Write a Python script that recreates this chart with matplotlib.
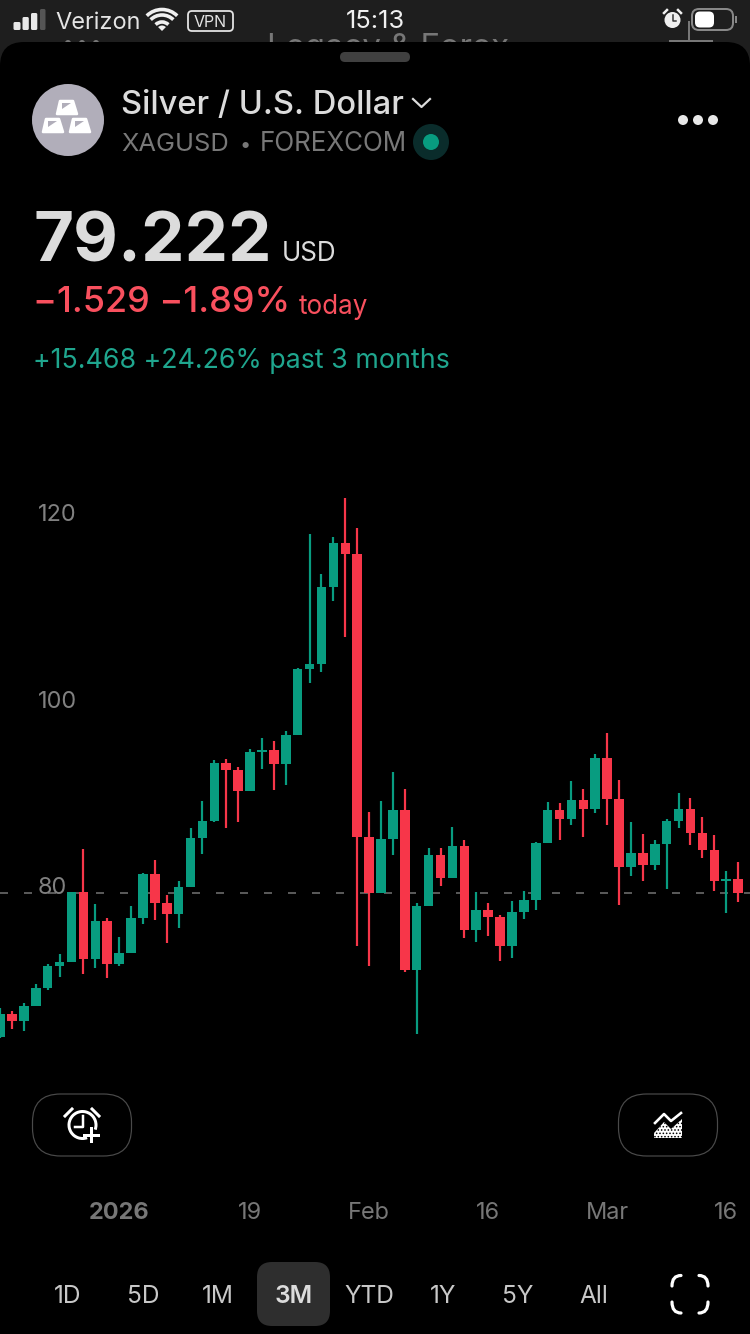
import matplotlib
matplotlib.use('Agg')
from matplotlib import pyplot as plt
from matplotlib.patches import Arc, Circle, FancyBboxPatch, PathPatch, Polygon, Rectangle, Wedge
from matplotlib.path import Path

plt.rcParams['font.family'] = ['Inter', 'DejaVu Sans']
plt.rcParams['lines.scale_dashes'] = False
plt.rcParams['hatch.linewidth'] = 0.7

# daily XAGUSD candles
opens = [63.82, 66.28, 65.53, 67.14, 69.07, 71.43, 71.85, 79.36, 72.18, 76.25, 71.64, 72.82, 76.57,
         81.29, 78.18, 77.00, 79.89, 85.14, 86.97, 93.18, 92.43, 90.18, 94.36, 94.58, 93.08, 96.18,
         103.26, 103.79, 112.05, 116.76, 115.58, 85.25, 79.25, 85.04, 88.15, 71.00, 77.86, 83.32,
         80.86, 84.29, 75.28, 77.43, 76.68, 73.57, 77.21, 78.50, 84.61, 88.15, 87.18, 89.22, 88.25,
         93.72, 89.32, 82.04, 83.54, 82.25, 84.50, 86.97, 88.25, 85.68, 83.86, 80.54, 80.75]
highs = [66.92, 66.60, 67.46, 69.50, 71.64, 72.71, 79.36, 83.97, 78.07, 76.57, 74.53, 77.86, 81.39,
         82.79, 79.04, 80.54, 86.22, 89.11, 93.50, 93.61, 92.75, 94.68, 95.86, 95.54, 96.61, 103.37,
         117.73, 113.44, 117.41, 121.59, 118.37, 87.93, 89.11, 92.22, 90.40, 78.18, 84.07, 84.07,
         86.32, 84.93, 79.36, 78.18, 76.89, 78.39, 79.46, 84.72, 89.00, 88.90, 91.25, 90.40, 94.15,
         96.40, 91.36, 86.86, 85.57, 84.93, 87.18, 89.97, 89.43, 87.40, 85.47, 81.61, 82.57]
lows = [63.71, 64.67, 64.46, 67.14, 68.85, 70.25, 71.85, 70.57, 71.21, 70.14, 71.43, 72.82, 75.93,
        76.36, 73.89, 75.50, 79.89, 83.43, 86.86, 86.22, 86.86, 90.18, 92.54, 90.29, 90.83, 96.18,
        101.76, 102.94, 110.55, 106.69, 73.57, 71.43, 79.25, 83.32, 70.78, 64.14, 77.86, 80.00,
        80.86, 74.43, 74.00, 74.64, 71.96, 72.28, 76.46, 77.43, 84.61, 84.93, 86.54, 85.25, 87.82,
        86.54, 77.96, 81.07, 80.54, 81.71, 79.68, 86.22, 84.39, 83.00, 79.46, 77.11, 78.29]
closes = [66.28, 65.53, 67.14, 69.07, 71.43, 71.85, 79.36, 72.18, 76.25, 71.64, 72.82, 76.57, 81.29,
          78.18, 77.00, 79.89, 85.14, 86.97, 93.18, 92.43, 90.18, 94.36, 94.58, 93.08, 96.18, 103.26,
          103.79, 112.05, 116.76, 115.58, 85.25, 79.25, 85.04, 88.15, 71.00, 77.86, 83.32, 80.86,
          84.29, 75.28, 77.43, 76.68, 73.57, 77.21, 78.50, 84.61, 88.15, 87.18, 89.22, 88.25, 93.72,
          89.32, 82.04, 83.54, 82.25, 84.50, 86.97, 88.25, 85.68, 83.86, 80.54, 80.75, 79.222]
last_price = 79.222

price_ticks = [80, 100, 120]
date_positions = [10, 21, 31, 41, 51, 61]
date_labels = ['2026', '19', 'Feb', '16', 'Mar', '16']
timeframes = ['1D', '5D', '1M', '3M', 'YTD', '1Y', '5Y', 'All']
timeframe_x = [68, 143, 218, 294, 369, 443, 518, 594]

GREEN = '#089C80'
RED = '#F73649'
BG = '#000000'


def pt(px):
    return px * 0.72


fig = plt.figure(figsize=(7.5, 13.34), dpi=100, facecolor=BG)

# candle chart, the axes run from y=480 to y=1198 on the 1334 high canvas
ax = fig.add_axes([0, (1334 - 1198) / 1334, 1, (1198 - 480) / 1334], facecolor=BG)
xs = list(range(len(opens)))
cols = [GREEN if c >= o else RED for o, c in zip(opens, closes)]
ax.axhline(last_price, color='#6e6e6e', lw=pt(1.6), dashes=(pt(8), pt(16)), zorder=1)
ax.vlines(xs, lows, highs, colors=cols, lw=pt(2.2), zorder=2)
ax.bar(xs, [abs(c - o) for o, c in zip(opens, closes)], bottom=[min(o, c) for o, c in zip(opens, closes)],
       width=0.8, color=cols, linewidth=0, zorder=3)
ax.set_xlim(-0.008, 63.0)
ax.set_ylim(80 - 312 * 0.10718, 80 + 406 * 0.10718)
ax.set_yticks(price_ticks)
ax.set_yticklabels([str(p) for p in price_ticks], ha='left')
ax.tick_params(axis='y', length=0, pad=-pt(38), labelsize=pt(23.5), labelcolor='#808080')
ax.set_xticks(date_positions)
ax.set_xticklabels(date_labels)
ax.tick_params(axis='x', length=0, pad=pt(4), labelsize=pt(23.5), labelcolor='#777777')
ax.get_xticklabels()[0].set_fontweight('bold')
for s in ax.spines.values():
    s.set_visible(False)

# everything around the chart is drawn in pixel coordinates
ui = fig.add_axes([0, 0, 1, 1], facecolor='none')
ui.set_xlim(0, 750)
ui.set_ylim(1334, 0)
ui.axis('off')


def label(x, y, s, size, color, ha='left', weight='normal'):
    return ui.text(x, y, s, fontsize=pt(size), color=color, ha=ha, va='baseline', fontweight=weight)


def box(x0, y0, x1, y1, r, **kw):
    p = FancyBboxPatch((x0 + r, y0 + r), x1 - x0 - 2 * r, y1 - y0 - 2 * r,
                       boxstyle='round,pad=%f,rounding_size=%f' % (r, r), **kw)
    ui.add_patch(p)
    return p


def corner(x0, y0, cx, cy, x1, y1):
    # one rounded bracket of the fullscreen icon
    p = Path([(x0, y0), (cx, cy), (x1, y1)], [Path.MOVETO, Path.CURVE3, Path.CURVE3])
    ui.add_patch(PathPatch(p, fc='none', ec='#ffffff', lw=pt(3.2), capstyle='round'))


# status bar and the screen behind the sheet
ui.add_patch(Rectangle((0, 0), 750, 80, color='#1e1e1e', lw=0, zorder=0))
label(388, 57, 'Legacy & Forex', 33, '#777777', ha='center').set_zorder(0.2)
for x in [68, 82, 96]:
    ui.add_patch(Circle((x, 43), 3, color='#777777', lw=0, zorder=0.2))
ui.plot([689, 689], [22, 44], color='#777777', lw=pt(2), zorder=0.2)
ui.plot([670, 712], [41, 41], color='#777777', lw=pt(2), zorder=0.2)
box(0, 42, 750, 120, 24, fc=BG, ec='none', zorder=0.5)

for i, (x0, x1, top) in enumerate([(13.5, 20.5, 22), (22.5, 28.8, 17), (31, 37.3, 13), (40, 45.5, 9)]):
    box(x0, top, x1, 30, 1.5, fc='#e8e8e8' if i < 3 else '#555555', ec='none')
label(55, 29, 'Verizon', 23.5, '#e4e4e4')
for r in [9, 16, 21.5]:
    ui.add_patch(Arc((162, 31), 2 * r, 2 * r, theta1=225, theta2=315, color='#f0f0f0', lw=pt(3.6)))
ui.add_patch(Wedge((162, 31), 5.5, 225, 315, color='#f0f0f0', lw=0))
box(188, 11, 233, 31, 4, fc='none', ec='#e4e4e4', lw=pt(1.8))
label(210.5, 27, 'VPN', 16, '#e4e4e4', ha='center')
label(375, 28.5, '15:13', 25.5, '#f0f0f0', ha='center')
ui.add_patch(Circle((672.5, 20), 8, fc='#f0f0f0', ec='none'))
ui.plot([672.5, 672.5, 676], [15, 20.5, 20.5], color='#333333', lw=pt(1.5))
ui.plot([664, 667], [13, 10], color='#f0f0f0', lw=pt(2.5))
ui.plot([678, 681], [10, 13], color='#f0f0f0', lw=pt(2.5))
box(692, 9, 733, 30, 7, fc='none', ec='#888888', lw=pt(2))
box(695, 11.5, 714, 27.5, 5, fc='#ffffff', ec='none')
ui.add_patch(Rectangle((735, 16), 2, 7, color='#888888', lw=0))

# sheet header
box(340, 52, 410, 62, 5, fc='#404040', ec='none')
ui.add_patch(Circle((68, 120), 36, color='#b1aeba', lw=0))
for dx, dy in [(0, 0), (-14, 18), (13, 18)]:
    trap = [(60 + dx, 101 + dy), (73 + dx, 101 + dy), (77 + dx, 114 + dy), (57 + dx, 114 + dy)]
    ui.add_patch(Polygon(trap, fc='#ffffff', ec='#ffffff', lw=pt(2.5), joinstyle='round', zorder=1.1))
    ui.add_patch(Polygon([(62 + dx, 103 + dy), (71 + dx, 103 + dy), (62 + dx, 109 + dy)],
                         fc='#b1aeba', ec='none', zorder=1.2))
label(121, 114, 'Silver / U.S. Dollar', 32.7, '#dcdcdc', weight='medium')
ui.plot([413, 421.5, 430], [99, 107, 99], color='#dcdcdc', lw=pt(2.2))
label(121, 151, 'XAGUSD', 25.5, '#787878')
label(240, 151, '•', 20, '#787878')
label(260, 151, 'FOREXCOM', 26, '#787878')
ui.add_patch(Circle((431, 142), 18, color='#0a2c2b', lw=0))
ui.add_patch(Circle((431, 142), 8, color=GREEN, lw=0, zorder=1.1))
for x in [683, 698, 713]:
    ui.add_patch(Circle((x, 120), 5, color='#e8e8e8', lw=0))

# price block
label(33, 261, '79.222', 69, '#dcdcdc', weight='bold')
label(282, 261, 'USD', 26, '#dcdcdc')
label(33, 312, '−1.529 −1.89%', 36, '#F9505E', weight='medium')
label(299, 314, 'today', 26, '#F9505E')
label(33, 368, '+15.468 +24.26% past 3 months', 26.8, '#1FA68E')

# alert and indicator buttons
box(32.5, 1094, 131.5, 1156, 28, fc='none', ec='#4a4a4a', lw=pt(1.2))
box(618.5, 1094, 717.5, 1156, 28, fc='none', ec='#4a4a4a', lw=pt(1.2))
ui.add_patch(Arc((82.5, 1125), 27, 27, theta1=70, theta2=20, color='#ffffff', lw=pt(3)))
ui.plot([83, 83, 75], [1116, 1127, 1127], color='#ffffff', lw=pt(2.5))
ui.plot([65, 72], [1116, 1109], color='#ffffff', lw=pt(3))
ui.plot([92, 99], [1109, 1116], color='#ffffff', lw=pt(3))
ui.plot([91, 91], [1128, 1141], color='#ffffff', lw=pt(3))
ui.plot([84, 98], [1134.5, 1134.5], color='#ffffff', lw=pt(3))
ui.plot([655, 664, 671, 681], [1123, 1114, 1121, 1113], color='#ffffff', lw=pt(2.6))
ui.add_patch(Polygon([(654, 1138), (654, 1133), (664, 1122), (671, 1129), (682, 1119), (682, 1138)],
                     fc='#ffffff', ec='#000000', hatch='.....', lw=0))

# range selector
box(257, 1262, 330, 1326, 15, fc='#2e2e2e', ec='none')
for x, t in zip(timeframe_x, timeframes):
    if t == '3M':
        label(x, 1303, t, 24.5, '#dcdcdc', ha='center', weight='semibold')
    else:
        label(x, 1303, t, 24.5, '#c8c8c8', ha='center')
corner(681, 1275.5, 672, 1275.5, 672, 1286)
corner(699, 1275.5, 708, 1275.5, 708, 1286)
corner(681, 1313, 672, 1313, 672, 1302)
corner(699, 1313, 708, 1313, 708, 1302)

fig.savefig('out.png', dpi=100, facecolor=BG)
